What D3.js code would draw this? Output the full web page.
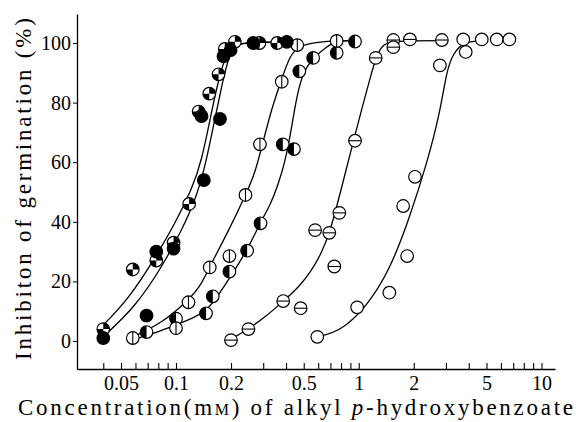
<!DOCTYPE html>
<html>
<head>
<meta charset="utf-8">
<script src="https://cdn.jsdelivr.net/npm/d3@7/dist/d3.min.js"></script>
<style>
  text, tspan { font-family: 'Liberation Serif', 'Times New Roman', Tinos, serif !important; }
</style>
</head>
<body style="margin:0;background:#fff">
<div id="chart"></div>
<script>
// observed points, one pair of arrays per marker style
const filledX  = [0.04, 0.069, 0.078, 0.097, 0.142, 0.138, 0.174, 0.182, 0.199, 0.265, 0.404];
const filledY  = [1, 8.5, 30, 31, 54, 75.5, 74.5, 95.5, 97.6, 100, 100.4];
const quarterX = [0.04, 0.058, 0.078, 0.097, 0.118, 0.133, 0.152, 0.171, 0.185, 0.21, 0.286, 0.358];
const quarterY = [4, 24, 27, 33, 46, 77, 83, 89.5, 98, 100.4, 100, 100];
const vlineX   = [0.058, 0.1, 0.117, 0.153, 0.196, 0.24, 0.288, 0.379, 0.461, 0.757];
const vlineY   = [1, 4.3, 13, 24.7, 28.5, 49, 66, 87, 99.3, 100.7];
const halfX    = [0.069, 0.1, 0.146, 0.159, 0.196, 0.245, 0.29, 0.384, 0.442, 0.473, 0.563, 0.757, 0.954];
const halfY    = [3, 7.5, 9.3, 15, 23.3, 30.3, 39.5, 66, 64.4, 90.5, 95, 96.7, 100.5];
const hlineX   = [0.2, 0.249, 0.386, 0.481, 0.577, 0.69, 0.735, 0.783, 0.954, 1.238, 1.546, 1.546, 1.905, 2.85];
const hlineY   = [0.3, 4, 13.4, 11, 37.2, 36.3, 25, 43, 67.2, 95, 101, 98.6, 101.2, 101];
const openX    = [0.593, 0.98, 1.47, 1.84, 1.75, 2.03, 2.78, 3.85, 3.73, 4.71, 5.69, 6.67];
const openY    = [1.4, 11.3, 16.2, 28.5, 45.3, 55.1, 92.5, 97, 101.2, 101.2, 101.2, 101.2];

// hand-drawn fitted curves, knots
const fitQuarterX = [0.038, 0.055, 0.077, 0.099, 0.122, 0.138, 0.16, 0.175, 0.19, 0.21, 0.25, 0.4];
const fitQuarterY = [4, 14, 28, 39.5, 51, 60, 80, 90, 97, 99.7, 100.2, 100.4];
const fitFilledX  = [0.04, 0.06, 0.084, 0.107, 0.127, 0.144, 0.165, 0.18, 0.195, 0.215, 0.25, 0.4];
const fitFilledY  = [1.4, 11.5, 25, 37, 47, 58, 76, 87, 96, 99.5, 100.2, 100.4];
const fitVlineX   = [0.058, 0.084, 0.117, 0.135, 0.153, 0.196, 0.239, 0.27, 0.3, 0.334, 0.379, 0.421, 0.476, 0.6, 0.757, 0.95];
const fitVlineY   = [1.4, 6, 13.8, 18, 25, 37.5, 48.7, 56, 67, 78, 88, 96, 99.3, 100.3, 100.8, 100.8];
const fitHalfX    = [0.058, 0.08, 0.1, 0.125, 0.145, 0.165, 0.206, 0.25, 0.288, 0.33, 0.36, 0.395, 0.425, 0.457, 0.497, 0.563, 0.668, 0.757, 0.95];
const fitHalfY    = [0.5, 3, 5.5, 7.8, 10, 14, 23, 31.5, 39.5, 46, 52, 60, 70, 82, 90.5, 95, 98.8, 100.8, 100.8];
const fitHlineX   = [0.196, 0.248, 0.3, 0.385, 0.477, 0.55, 0.62, 0.697, 0.806, 0.934, 1.05, 1.152, 1.23, 1.32, 1.42, 2.0, 2.9];
const fitHlineY   = [0.3, 4, 7.5, 13.2, 18.5, 23.5, 29, 36.5, 51.5, 67, 79, 88, 94.3, 98.5, 100.4, 100.8, 100.8];
const fitOpenX    = [0.589, 0.789, 1.105, 1.48, 1.905, 2.36, 2.78, 3.03, 3.29, 3.73, 4.7];
const fitOpenY    = [1.4, 3.1, 11.5, 23.8, 41.7, 59.6, 76.4, 90.9, 96.5, 100.4, 100.8];

// axis ticks
const xLabelTicks = [0.05, 0.1, 0.2, 0.5, 1, 2, 5, 10];
const xLabelText  = ['0.05', '0.1', '0.2', '0.5', '1', '2', '5', '10'];
const xMinorTicks = [0.04, 0.06, 0.07, 0.08, 0.09, 0.3, 0.4, 0.6, 0.7, 0.8, 0.9, 3, 4, 6, 7, 8, 9];
const yTicks = [0, 20, 40, 60, 80, 100];

const width = 576, height = 422;
const plotL = 77, plotR = 555, plotT = 14, plotB = 369;
const fontName = 'Liberation Serif';

const svg = d3.select('#chart').append('svg')
  .attr('width', width)
  .attr('height', height)
  .style('display', 'block')
  .style('background', '#fff');

// 0.1 -> 176px, 10 -> 541.5px, then stretched to the axis ends
const x = d3.scaleLog().domain([0.1, 10]).range([176, 541.5]);
x.domain([x.invert(plotL), x.invert(plotR)]).range([plotL, plotR]);
const y = d3.scaleLinear().domain([0, 100]).range([341, 43]);
y.domain([y.invert(plotB), y.invert(plotT)]).range([plotB, plotT]);

// x axis, ticks point up into the plot
const xAxis = d3.axisBottom(x)
  .tickValues(xLabelTicks.concat(xMinorTicks))
  .tickSizeInner(-6)
  .tickSizeOuter(0)
  .tickPadding(7)
  .tickFormat(d => {
    const i = xLabelTicks.indexOf(d);
    return i >= 0 ? xLabelText[i] : '';
  });

const gx = svg.append('g')
  .attr('transform', `translate(0,${plotB})`)
  .call(xAxis)
  .attr('font-family', fontName)
  .attr('font-size', 20);
gx.select('.domain').attr('stroke-width', 1.3);
gx.selectAll('.tick line').attr('stroke-width', 1.1);
gx.selectAll('text')
  .attr('font-family', fontName)
  .attr('fill', '#000');

const yAxis = d3.axisLeft(y)
  .tickValues(yTicks)
  .tickSizeInner(4)
  .tickSizeOuter(0)
  .tickPadding(2);

const gy = svg.append('g')
  .attr('transform', `translate(${plotL},0)`)
  .call(yAxis)
  .attr('font-family', fontName)
  .attr('font-size', 20);
gy.select('.domain').attr('stroke-width', 1.3);
gy.selectAll('text')
  .attr('font-family', fontName)
  .attr('fill', '#000');

// fitted curves
const line = d3.line()
  .x(d => x(d[0]))
  .y(d => y(d[1]))
  .curve(d3.curveBasis);

const fits = [
  [fitQuarterX, fitQuarterY],
  [fitFilledX, fitFilledY],
  [fitVlineX, fitVlineY],
  [fitHalfX, fitHalfY],
  [fitHlineX, fitHlineY],
  [fitOpenX, fitOpenY]
];

fits.forEach(([xs, ys]) => {
  svg.append('path')
    .datum(xs.map((v, i) => [v, ys[i]]))
    .attr('d', line)
    .attr('fill', 'none')
    .attr('stroke', '#000')
    .attr('stroke-width', 1.3);
});

// markers
const r = 6.3;
const arc = d3.arc().innerRadius(0).outerRadius(r);

function drawSeries(xs, ys, kind) {
  const g = svg.append('g')
    .selectAll('g')
    .data(xs.map((v, i) => [v, ys[i]]))
    .join('g')
    .attr('transform', d => `translate(${x(d[0])},${y(d[1])})`);

  g.append('circle')
    .attr('r', r)
    .attr('fill', kind === 'filled' ? '#000' : '#fff');

  if (kind === 'quarter') {
    g.append('path').attr('d', arc({ startAngle: 0, endAngle: Math.PI / 2 }));
    g.append('path').attr('d', arc({ startAngle: Math.PI, endAngle: Math.PI * 1.5 }));
  }
  if (kind === 'half') {
    g.append('path').attr('d', arc({ startAngle: Math.PI, endAngle: Math.PI * 2 }));
  }
  if (kind === 'vline') {
    g.append('line').attr('y1', -r).attr('y2', r).attr('stroke', '#000').attr('stroke-width', 1.1);
  }
  if (kind === 'hline') {
    g.append('line').attr('x1', -r).attr('x2', r).attr('stroke', '#000').attr('stroke-width', 1.1);
  }

  g.append('circle')
    .attr('r', r)
    .attr('fill', 'none')
    .attr('stroke', '#000')
    .attr('stroke-width', 1.2);
}

drawSeries(openX, openY, 'open');
drawSeries(hlineX, hlineY, 'hline');
drawSeries(halfX, halfY, 'half');
drawSeries(vlineX, vlineY, 'vline');
drawSeries(quarterX, quarterY, 'quarter');
drawSeries(filledX, filledY, 'filled');

// axis titles
svg.append('text')
  .attr('transform', 'translate(31,189) rotate(-90)')
  .attr('text-anchor', 'middle')
  .attr('textLength', 342)
  .attr('lengthAdjust', 'spacing')
  .attr('font-family', fontName)
  .attr('font-size', 23)
  .text('Inhibiton of germination (%)');

const xt = svg.append('text')
  .attr('x', 295.5)
  .attr('y', 415)
  .attr('text-anchor', 'middle')
  .attr('textLength', 555)
  .attr('lengthAdjust', 'spacing')
  .attr('font-family', fontName)
  .attr('font-size', 23);
xt.append('tspan').text('Concentration(m');
xt.append('tspan').attr('font-size', 16).text('M');
xt.append('tspan').text(') of alkyl ');
xt.append('tspan').attr('font-style', 'italic').text('p');
xt.append('tspan').text('-hydroxybenzoate');
</script>
</body>
</html>
